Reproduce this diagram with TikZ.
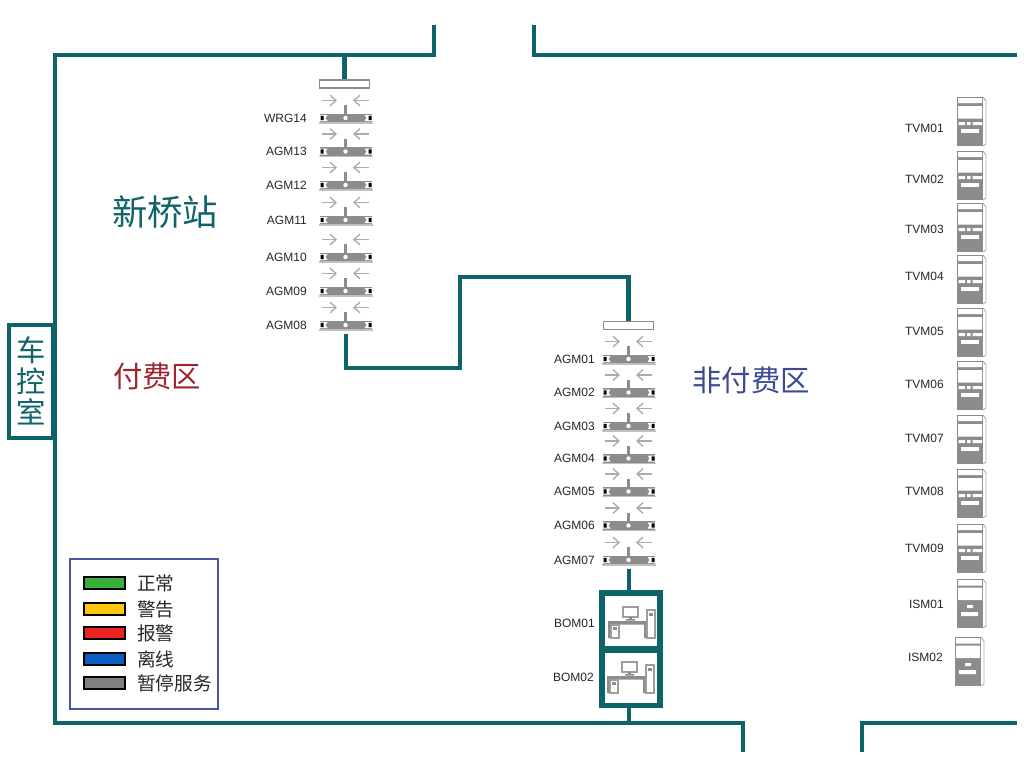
\documentclass[tikz,border=0pt]{standalone}
\usepackage{fontspec}
\setmainfont{Liberation Sans}
\newfontfamily\cjk{Noto Sans CJK SC}
\usetikzlibrary{arrows.meta}
\definecolor{wallcol}{HTML}{0E6468}
\definecolor{devgray}{HTML}{8C8C8C}
\definecolor{arrowgray}{HTML}{ABABAB}
\definecolor{legendblue}{HTML}{4A55A2}
\tikzset{
	wall/.style={draw=wallcol, line width=3.2pt, line cap=rect},
	devlabel/.style={font=\fontsize{9}{10}\selectfont, text=black!85, inner sep=0pt},
	topbar/.style={draw=devgray, fill=white, line width=0.8pt, minimum width=38pt, minimum height=6pt, inner sep=0pt},
	swatch/.style={draw=black, line width=1.5pt, minimum width=31pt, minimum height=9.5pt, inner sep=0pt},
	legendtext/.style={font=\cjk\fontsize{14}{15}\selectfont, text=black!85, anchor=west, inner sep=0pt},
	gate/.pic={
		\draw[arrowgray, line width=1pt, -{Straight Barb[length=4.5pt,width=8pt]}] (-24,-17.5) -- (-9,-17.5);
		\draw[arrowgray, line width=1pt, -{Straight Barb[length=4.5pt,width=8pt]}] (23,-17.5) -- (7,-17.5);
		\draw[devgray, line width=1.9pt] (-0.5,-13) -- (-0.5,-3);
		\draw[devgray!55, line width=0.9pt] (-27,5) -- (27,5);
		\node[fill=devgray, minimum width=39pt, minimum height=6.4pt, inner sep=0pt] (-body) at (0,0) {};
		\fill[white] (-26,-3) -- (-18.5,-3) -- (-20.5,0) -- (-18.5,3) -- (-26,3) -- cycle (26,-3) -- (18.5,-3) -- (20.5,0) -- (18.5,3) -- (26,3) -- cycle;
		\fill[black] (-25.5,-2.2) rectangle (-22.5,2.2) (22.5,-2.2) rectangle (25.5,2.2);
		\fill[white] (-0.5,0) circle (2.2);
	},
	tvm/.pic={
		\draw[devgray!70, line width=0.7pt] (26,0) -- (29,4) -- (29,47) -- (26,49);
		\fill[devgray] (0,0) rectangle (26,49);
		\fill[white] (1,1) rectangle (25,6) (1,9) rectangle (25,21.5);
		\fill[white] (1.5,25) rectangle (8,28) (10,25) rectangle (13.5,28) (15.5,25) rectangle (25,28);
		\fill[white] (4,31.5) rectangle (22,35.5);
	},
	ism/.pic={
		\draw[devgray!70, line width=0.7pt] (26,0) -- (29,4) -- (29,47) -- (26,49);
		\fill[devgray] (0,0) rectangle (26,49);
		\fill[white] (1,1) rectangle (25,6.5) (1,8.5) rectangle (25,21);
		\fill[white] (10,26) rectangle (16,29) (4,33) rectangle (21,37);
	},
	desk/.pic={
		\draw[devgray!85, line width=1.3pt, fill=white] (0,0) rectangle (15,10);
		\fill[devgray] (6,10) rectangle (9,12) (3,12) rectangle (12,13.5);
		\fill[devgray] (-15,14) rectangle (24,17.5) (-15,14) rectangle (-12,31) (21,14) rectangle (24,31);
		\draw[devgray!85, line width=1.3pt, fill=white] (-12,18) rectangle (-4,31);
		\fill[devgray] (-10,20) rectangle (-6,22.5);
		\draw[devgray!85, line width=1.3pt, fill=white] (24,3) rectangle (32,31);
		\fill[devgray] (26,6) rectangle (30,8.5);
	}
}
\begin{document}
\begin{tikzpicture}[x=0.75pt, y=-0.75pt]
	\useasboundingbox (0,0) rectangle (1024,768);
	% walls
	\draw[wall] (434,27) -- (434,55) -- (55,55) -- (55,723) -- (743,723) -- (743,750);
	\draw[wall] (534,27) -- (534,55) -- (1015,55);
	\draw[wall] (862,750) -- (862,723) -- (1015,723);
	\node[draw=wallcol, line width=3.2pt, fill=white, minimum width=33pt, minimum height=85pt, inner sep=0pt] (room) at (31,381.5) {};
	\node[font=\cjk\fontsize{22}{23.5}\selectfont, text=wallcol, align=center, inner sep=0pt] (roomtxt) at (31,381) {车\\控\\室};

	\node[font=\cjk\fontsize{26.5}{28}\selectfont, text=wallcol, inner sep=0pt] (station) at (165,212) {新桥站};
	\node[font=\cjk\fontsize{22}{24}\selectfont, text={rgb,255:red,158;green,38;blue,48}, inner sep=0pt] (paid) at (157,376) {付费区};
	\node[font=\cjk\fontsize{22}{24}\selectfont, text={rgb,255:red,60;green,74;blue,148}, inner sep=0pt] (unpaid) at (751,380) {非付费区};

	% gates
	\node[topbar] (barA) at (344.5,84) {};
	\node[topbar] (barB) at (628.5,325.5) {};
	\foreach \name/\y/\txt in {wrg14/118/WRG14, agm13/151.5/AGM13, agm12/185/AGM12, agm11/220/AGM11, agm10/257/AGM10, agm09/291/AGM09, agm08/325/AGM08} {
		\pic (\name) at (346,\y) {gate};
		\node[devlabel, anchor=east] (\name-txt) at (307,\y) {\txt};
	}
	\foreach \name/\y/\txt in {agm01/359/AGM01, agm02/392.5/AGM02, agm03/426/AGM03, agm04/458.5/AGM04, agm05/491.5/AGM05, agm06/525.5/AGM06, agm07/560/AGM07} {
		\pic (\name) at (629,\y) {gate};
		\node[devlabel, anchor=east] (\name-txt) at (595,\y) {\txt};
	}

	% links
	\coordinate (wallA) at (344.5,55);
	\coordinate (jointA) at (460,368);
	\coordinate (jointB) at (460,277);
	\draw[wall, line cap=butt] (wallA) -- (barA.north);
	\draw[wall, line cap=butt, line join=miter, shorten <=3pt] (agm08-body.south) |- (jointA) -- (jointB) -| (barB.north);

	% ticket offices
	\node[draw=wallcol, line width=3.8pt, fill=white, minimum width=43.5pt, minimum height=42pt, inner sep=0pt] (bom01) at (631,621) {};
	\node[draw=wallcol, line width=3.8pt, fill=white, minimum width=43.5pt, minimum height=41.5pt, inner sep=0pt] (bom02) at (631,678) {};
	\coordinate (wallB) at (629,723);
	\draw[wall, line cap=butt, shorten <=3pt] (agm07-body.south) -- (bom01.north -| agm07-body.south);
	\draw[wall, line cap=butt] (bom02.south -| wallB) -- (wallB);
	\pic at (623,607) {desk};
	\pic at (622,662) {desk};
	\node[devlabel, anchor=east] (bom01-txt) at (595,623) {BOM01};
	\node[devlabel, anchor=east] (bom02-txt) at (594,677) {BOM02};

	% machines
	\foreach \name/\y/\ty/\txt in {tvm01/97/128/TVM01, tvm02/151/179/TVM02, tvm03/203/229/TVM03, tvm04/255/276/TVM04, tvm05/308/331/TVM05, tvm06/361/384/TVM06, tvm07/415/438/TVM07, tvm08/469/491/TVM08, tvm09/524/548/TVM09} {
		\pic (\name) at (957,\y) {tvm};
		\node[devlabel, anchor=east] (\name-txt) at (944,\ty) {\txt};
	}
	\pic (ism01) at (957,579) {ism};
	\node[devlabel, anchor=east] (ism01-txt) at (944,604) {ISM01};
	\pic (ism02) at (955,637) {ism};
	\node[devlabel, anchor=east] (ism02-txt) at (943,657) {ISM02};

	% legend
	\node[draw=legendblue, line width=1.5pt, minimum width=111pt, minimum height=112pt, inner sep=0pt] (legend) at (143.5,634) {};
	\foreach \name/\y/\col/\txt in {ok/583/38B03A/正常, warn/609/FFC60B/警告, alarm/633/EC2420/报警, off/659/0A5DC2/离线, stop/683/7F7F7F/暂停服务} {
		\definecolor{swcol}{HTML}{\col}
		\node[swatch, fill=swcol] (\name) at (104.5,\y) {};
		\node[legendtext] (\name-txt) at (137,\y) {\txt};
	}
\end{tikzpicture}
\end{document}
